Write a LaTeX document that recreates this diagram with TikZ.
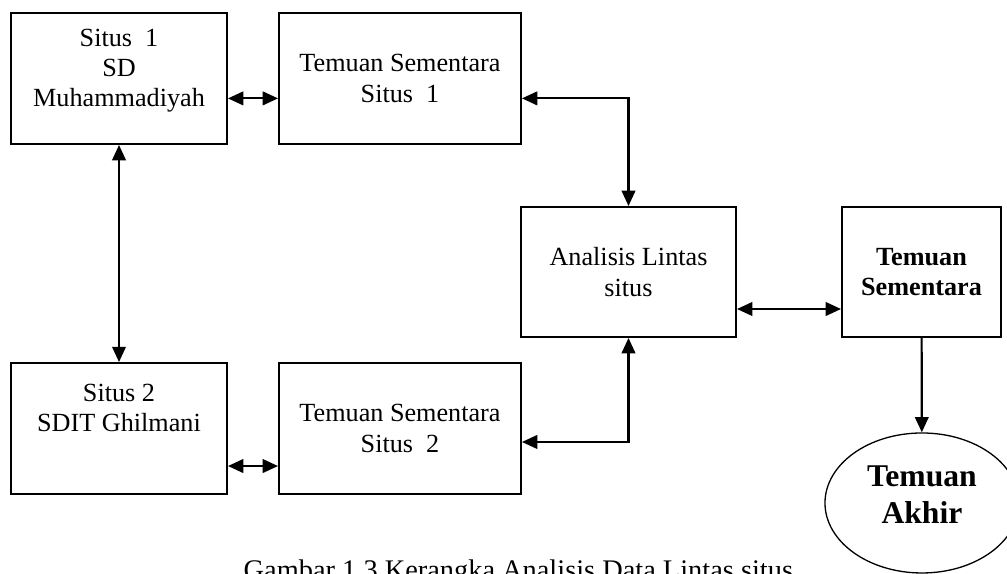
\documentclass[tikz,border=0pt]{standalone}
\usepackage{fontspec}
\setmainfont{Liberation Serif}
\usetikzlibrary{arrows.meta,shapes.geometric}

\begin{document}
\begin{tikzpicture}
  [box/.style={rectangle,draw,line width=0.9pt,minimum height=2.109cm,
    inner sep=0pt,align=center,font=\fontsize{12}{13.8}\selectfont},
  site/.style={box,minimum width=3.478cm},
  temp/.style={box,minimum width=3.896cm},
  cross/.style={box,minimum width=3.462cm,minimum height=2.093cm},
  fin/.style={ellipse,draw,line width=0.6pt,minimum width=3.123cm,
    minimum height=2.254cm,inner sep=0pt,align=center,
    font=\fontsize{14.5}{17}\selectfont\bfseries},
  link/.style={<->,line width=1pt,>={Triangle[length=7pt,width=6.2pt]}},
  post/.style={->,line width=1pt,>={Triangle[length=7pt,width=6.2pt]}}]

  \useasboundingbox (0,0) rectangle (16.213,-9.241);
  \clip (0,0) rectangle (16.213,-9.241);

  \node[site,text height=36pt,text depth=10pt] (sit1) at (1.916,-1.264)
    {Situs~~1\\SD\\Muhammadiyah};
  \node[temp] (ts1) at (6.440,-1.264) {Temuan Sementara\\Situs~~1};

  \node[site,text height=22pt,text depth=19.6pt] (sit2) at (1.916,-6.899)
    {Situs 2\\SDIT Ghilmani};
  \node[temp] (ts2) at (6.440,-6.899) {Temuan Sementara\\Situs~~2};

  \node[cross] (ana) at (10.119,-4.379) {Analisis Lintas\\situs};
  \node[cross,minimum width=2.560cm,font=\fontsize{12}{13.8}\selectfont\bfseries]
    (tsb) at (14.836,-4.379) {Temuan\\Sementara};

  \node[fin,text depth=8pt] (akhir) at (14.844,-8.098) {Temuan\\Akhir};

  \draw[link] ([yshift=-0.32cm]sit1.east) -- ([yshift=-0.32cm]ts1.west);
  \draw[link] (sit1) -- (sit2);
  \draw[link] ([yshift=-0.32cm]ts1.east) -| (ana.north);
  \draw[link] (ana.south) |- ([yshift=-0.217cm]ts2.east);
  \draw[link] ([yshift=-0.604cm]sit2.east) -- ([yshift=-0.604cm]ts2.west);
  \draw[link] ([yshift=-0.596cm]ana.east) -- ([yshift=-0.596cm]tsb.west);
  \draw[post] (tsb) -- (akhir);

  \node[anchor=base west,font=\fontsize{13}{15}\selectfont] (cap)
    at (3.80,-9.338) {Gambar 1.3 Kerangka Analisis Data Lintas situs};
\end{tikzpicture}
\end{document}
